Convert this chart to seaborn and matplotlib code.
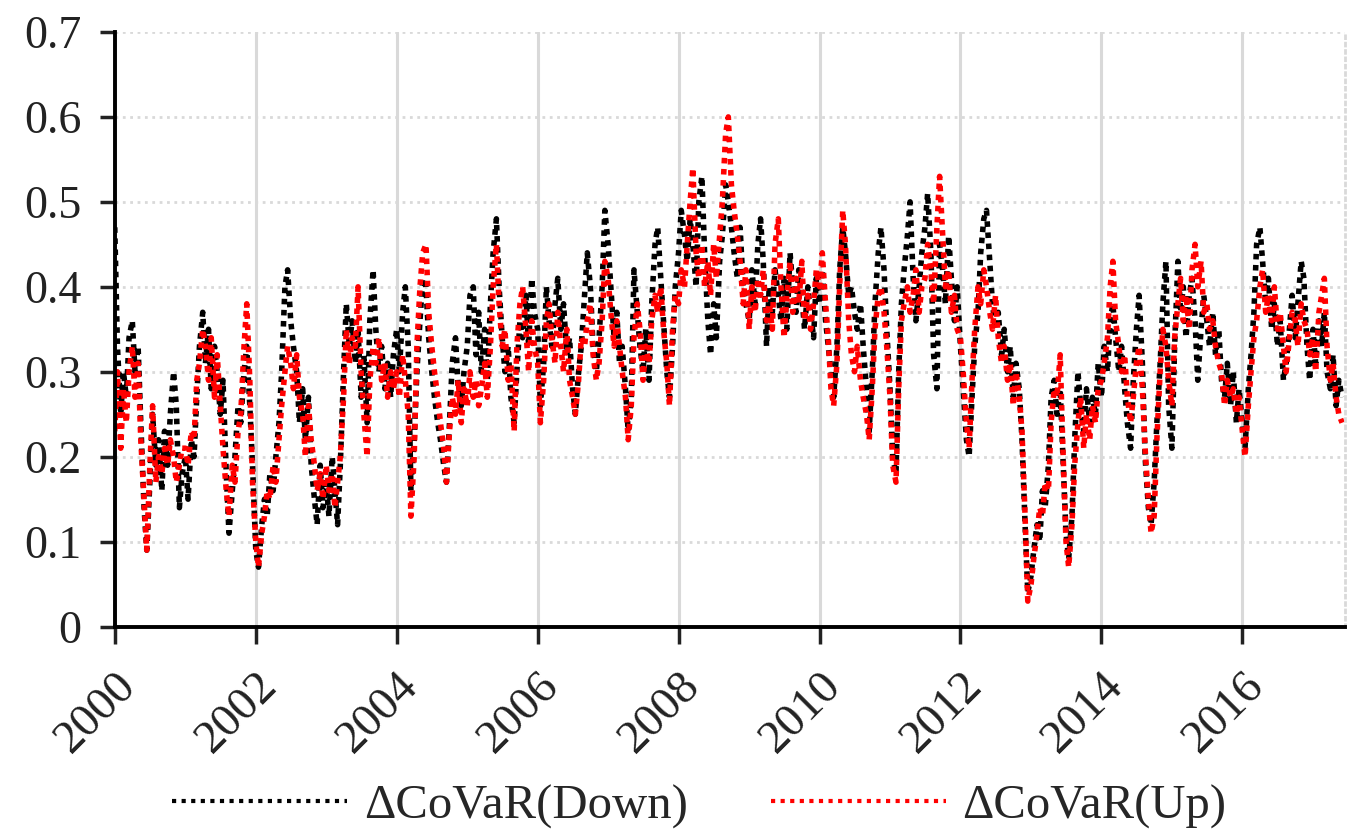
import matplotlib
matplotlib.use("Agg")
import matplotlib.pyplot as plt
import matplotlib.dates as mdates
import seaborn as sns
import pandas as pd

# semi-monthly readings, one row per year (2000 .. mid 2017)
covar_down = [
    0.47,0.33,0.25,0.30,0.27,0.34,0.36,0.30,0.33,0.24,0.14,0.09,0.17,0.25,0.19,0.22,0.16,0.23,0.19,0.25,0.30,0.26,0.14,0.18,  # 2000
    0.20,0.15,0.22,0.20,0.27,0.33,0.37,0.31,0.35,0.28,0.33,0.30,0.25,0.29,0.18,0.11,0.16,0.20,0.26,0.24,0.30,0.33,0.26,0.19,  # 2001
    0.09,0.07,0.12,0.15,0.13,0.18,0.16,0.20,0.24,0.30,0.40,0.42,0.36,0.33,0.30,0.24,0.28,0.22,0.27,0.19,0.15,0.12,0.19,0.14,  # 2002
    0.17,0.13,0.20,0.16,0.12,0.19,0.30,0.38,0.33,0.36,0.31,0.35,0.27,0.32,0.24,0.36,0.42,0.35,0.30,0.33,0.28,0.31,0.27,0.32,  # 2003
    0.35,0.30,0.37,0.40,0.33,0.16,0.22,0.30,0.36,0.41,0.40,0.34,0.30,0.27,0.24,0.22,0.19,0.17,0.24,0.31,0.34,0.28,0.26,0.30,  # 2004
    0.33,0.39,0.40,0.32,0.37,0.30,0.35,0.29,0.38,0.44,0.48,0.40,0.34,0.30,0.33,0.27,0.24,0.30,0.36,0.34,0.39,0.33,0.41,0.37,  # 2005
    0.35,0.26,0.31,0.40,0.36,0.33,0.38,0.41,0.35,0.38,0.32,0.34,0.28,0.25,0.30,0.33,0.39,0.44,0.40,0.33,0.30,0.34,0.40,0.49,  # 2006
    0.45,0.40,0.34,0.37,0.31,0.33,0.28,0.23,0.27,0.42,0.37,0.33,0.30,0.35,0.29,0.38,0.45,0.47,0.41,0.36,0.30,0.27,0.33,0.40,  # 2007
    0.44,0.49,0.46,0.43,0.48,0.45,0.40,0.50,0.53,0.44,0.36,0.32,0.38,0.34,0.43,0.46,0.52,0.50,0.47,0.44,0.41,0.47,0.40,0.38,  # 2008
    0.36,0.42,0.38,0.45,0.48,0.43,0.33,0.40,0.37,0.42,0.39,0.36,0.41,0.35,0.44,0.40,0.37,0.42,0.39,0.35,0.40,0.37,0.34,0.41,  # 2009
    0.38,0.42,0.36,0.33,0.30,0.27,0.33,0.42,0.47,0.44,0.39,0.40,0.37,0.35,0.38,0.33,0.28,0.23,0.30,0.38,0.44,0.47,0.42,0.35,  # 2010
    0.28,0.20,0.18,0.30,0.38,0.42,0.46,0.50,0.41,0.36,0.40,0.44,0.47,0.51,0.44,0.32,0.28,0.45,0.42,0.38,0.46,0.41,0.36,0.40,  # 2011
    0.33,0.28,0.22,0.20,0.27,0.33,0.37,0.44,0.48,0.49,0.43,0.38,0.35,0.37,0.32,0.35,0.30,0.33,0.27,0.31,0.28,0.22,0.12,0.04,  # 2012
    0.06,0.09,0.12,0.10,0.16,0.14,0.19,0.27,0.29,0.25,0.28,0.20,0.11,0.08,0.13,0.22,0.30,0.26,0.23,0.28,0.24,0.27,0.25,0.31,  # 2013
    0.27,0.33,0.30,0.36,0.38,0.34,0.30,0.33,0.28,0.24,0.21,0.29,0.35,0.39,0.31,0.20,0.14,0.12,0.17,0.24,0.31,0.38,0.43,0.26,  # 2014
    0.21,0.33,0.43,0.37,0.40,0.34,0.39,0.41,0.36,0.29,0.35,0.39,0.36,0.33,0.37,0.32,0.35,0.29,0.27,0.31,0.26,0.30,0.24,0.28,  # 2015
    0.24,0.21,0.28,0.32,0.37,0.45,0.47,0.43,0.38,0.41,0.35,0.38,0.33,0.36,0.29,0.31,0.35,0.39,0.34,0.38,0.43,0.41,0.33,0.29,  # 2016
    0.35,0.31,0.36,0.33,0.37,0.30,0.28,0.32,0.26,0.29,0.27,  # 2017
]

covar_up = [
    0.23,0.30,0.21,0.28,0.24,0.30,0.33,0.27,0.31,0.22,0.15,0.09,0.19,0.26,0.17,0.20,0.18,0.21,0.19,0.22,0.20,0.17,0.19,0.21,  # 2000
    0.21,0.19,0.23,0.22,0.29,0.31,0.35,0.33,0.29,0.34,0.27,0.32,0.26,0.21,0.16,0.13,0.19,0.17,0.23,0.25,0.33,0.38,0.29,0.17,  # 2001
    0.10,0.07,0.11,0.13,0.16,0.15,0.19,0.17,0.22,0.26,0.30,0.33,0.31,0.28,0.32,0.27,0.25,0.20,0.26,0.22,0.19,0.16,0.18,0.15,  # 2002
    0.19,0.16,0.18,0.14,0.17,0.20,0.27,0.35,0.31,0.34,0.33,0.40,0.30,0.25,0.20,0.29,0.33,0.31,0.34,0.29,0.31,0.27,0.30,0.28,  # 2003
    0.30,0.27,0.32,0.29,0.25,0.13,0.20,0.33,0.40,0.44,0.45,0.37,0.33,0.30,0.27,0.24,0.21,0.17,0.23,0.27,0.25,0.29,0.24,0.28,  # 2004
    0.26,0.30,0.27,0.29,0.26,0.28,0.31,0.27,0.33,0.40,0.45,0.38,0.33,0.35,0.29,0.31,0.23,0.33,0.38,0.40,0.35,0.30,0.36,0.33,  # 2005
    0.31,0.24,0.29,0.36,0.38,0.34,0.31,0.37,0.33,0.30,0.35,0.29,0.27,0.25,0.29,0.34,0.33,0.36,0.38,0.32,0.29,0.31,0.36,0.43,  # 2006
    0.41,0.37,0.33,0.36,0.33,0.30,0.27,0.22,0.26,0.34,0.38,0.35,0.29,0.33,0.31,0.36,0.39,0.37,0.40,0.35,0.31,0.26,0.35,0.39,  # 2007
    0.38,0.42,0.40,0.45,0.50,0.54,0.44,0.41,0.45,0.40,0.43,0.39,0.45,0.41,0.46,0.50,0.58,0.60,0.52,0.49,0.46,0.43,0.38,0.42,  # 2008
    0.35,0.40,0.37,0.41,0.39,0.42,0.36,0.38,0.35,0.45,0.48,0.40,0.34,0.39,0.43,0.37,0.41,0.38,0.43,0.36,0.39,0.35,0.38,0.42,  # 2009
    0.40,0.44,0.38,0.34,0.28,0.26,0.31,0.40,0.49,0.45,0.36,0.32,0.30,0.33,0.29,0.27,0.25,0.22,0.28,0.35,0.39,0.40,0.37,0.33,  # 2010
    0.27,0.19,0.17,0.28,0.36,0.38,0.40,0.37,0.39,0.42,0.37,0.40,0.41,0.45,0.42,0.38,0.47,0.53,0.46,0.40,0.42,0.37,0.39,0.35,  # 2011
    0.34,0.30,0.24,0.21,0.29,0.35,0.40,0.38,0.42,0.40,0.37,0.35,0.39,0.34,0.31,0.33,0.29,0.31,0.26,0.30,0.27,0.23,0.13,0.03,  # 2012
    0.05,0.08,0.11,0.14,0.13,0.17,0.16,0.24,0.28,0.27,0.32,0.21,0.10,0.07,0.12,0.19,0.24,0.27,0.21,0.25,0.22,0.26,0.24,0.28,  # 2013
    0.29,0.31,0.34,0.40,0.43,0.36,0.33,0.30,0.32,0.27,0.24,0.27,0.31,0.33,0.28,0.21,0.15,0.11,0.13,0.22,0.30,0.35,0.33,0.29,  # 2014
    0.26,0.34,0.38,0.41,0.36,0.39,0.35,0.42,0.45,0.40,0.43,0.37,0.38,0.35,0.36,0.33,0.31,0.30,0.26,0.29,0.27,0.28,0.25,0.27,  # 2015
    0.23,0.20,0.26,0.30,0.34,0.36,0.40,0.42,0.37,0.39,0.36,0.40,0.35,0.37,0.33,0.30,0.34,0.37,0.36,0.33,0.38,0.36,0.35,0.32,  # 2016
    0.34,0.30,0.37,0.39,0.41,0.33,0.29,0.31,0.27,0.25,0.24,  # 2017
]

dates = pd.date_range("2000-01-01", periods=len(covar_down), freq="SMS")
y_ticks = [0, 0.1, 0.2, 0.3, 0.4, 0.5, 0.6, 0.7]
y_labels = ["0", "0.1", "0.2", "0.3", "0.4", "0.5", "0.6", "0.7"]

df = pd.DataFrame({"date": dates, "down": covar_down, "up": covar_up})

sns.set_style("white")
plt.rcParams["font.family"] = ["Liberation Serif", "DejaVu Serif"]

fig = plt.figure(figsize=(13.5, 8.4), dpi=100)
ax = fig.add_axes([0.085, 0.254, 0.911, 0.708])

dots = (0, (1, 1.0))
sns.lineplot(data=df, x="date", y="down", ax=ax, color="black", linestyle=dots,
             linewidth=4.0, label="\u0394CoVaR(Down)")
sns.lineplot(data=df, x="date", y="up", ax=ax, color="#ff0000", linestyle=dots,
             linewidth=4.0, label="\u0394CoVaR(Up)")

ax.set_xlim(pd.Timestamp("2000-01-01"), pd.Timestamp("2017-06-14"))
ax.set_ylim(0, 0.7)
ax.set_yticks(y_ticks)
ax.set_yticklabels(y_labels)
ax.xaxis.set_major_locator(mdates.YearLocator(2))
ax.xaxis.set_major_formatter(mdates.DateFormatter("%Y"))
ax.set_xlabel("")
ax.set_ylabel("")

# grid: solid verticals, dotted horizontals
ax.grid(axis="x", color="#d9d9d9", linestyle="-", linewidth=2.2)
ax.grid(axis="y", color="#d9d9d9", linestyle=":", linewidth=2)
ax.set_axisbelow(True)

for side in ["left", "bottom"]:
    ax.spines[side].set_color("black")
    ax.spines[side].set_linewidth(2.8)
ax.spines["top"].set_visible(False)
ax.spines["right"].set_color("#d9d9d9")
ax.spines["right"].set_linestyle(":")
ax.spines["right"].set_linewidth(2)

ax.tick_params(axis="y", direction="out", length=11, width=2.5, pad=13,
               labelsize=33, colors="#222222", left=True)
ax.tick_params(axis="x", direction="out", length=12, width=2.5, pad=15,
               labelsize=34, colors="#222222", bottom=True)
for lab in ax.get_xticklabels():
    lab.set_rotation(45)
    lab.set_ha("right")
    lab.set_rotation_mode("anchor")

leg = ax.legend(loc="center", bbox_to_anchor=(0.518, 0.04), bbox_transform=fig.transFigure,
                ncol=2, frameon=False, fontsize=35, handlelength=3.6, handletextpad=0.35,
                columnspacing=1.7)
for line in leg.get_lines():
    line.set_linewidth(3)
    line.set_linestyle((0, (1, 1.3)))

plt.savefig("out.png", dpi=100)
